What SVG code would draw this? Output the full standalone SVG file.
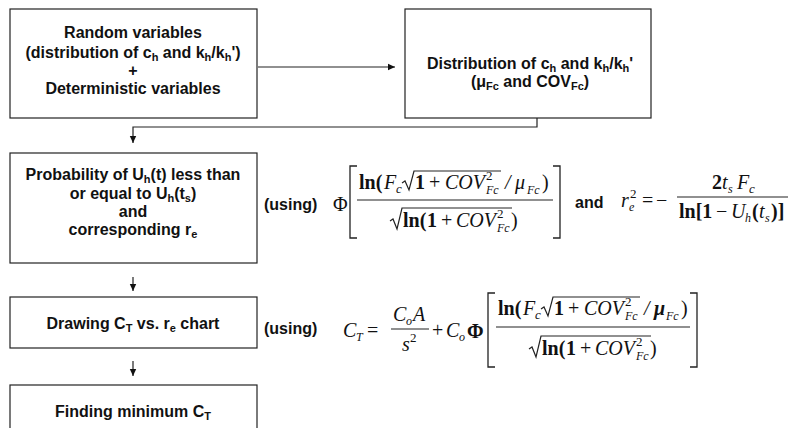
<svg xmlns="http://www.w3.org/2000/svg" width="791" height="428" viewBox="0 0 791 428">
<defs>
<marker id="ah" markerWidth="8" markerHeight="8" refX="7" refY="4" orient="auto" markerUnits="userSpaceOnUse">
<path d="M0,0.8 L7,4 L0,7.2 Z" fill="#111"/>
</marker>
<style>
.box{fill:#fff;stroke:#222;stroke-width:1.2}
.lbl{font-family:"Liberation Sans",Arial,sans-serif;font-weight:bold;font-size:16px;fill:#111}
.c{text-anchor:middle}
.sb{font-size:11px}
.m{font-family:"Liberation Serif","Times New Roman",serif;font-size:20px;fill:#111}
.i{font-style:italic}
.b{font-weight:bold}
.s13{font-size:13px}
.s12{font-size:12px}
.ln{fill:none;stroke:#222;stroke-width:1.2}
.br{fill:none;stroke:#222;stroke-width:1.3}
</style>
</defs>
<rect width="791" height="428" fill="#fff"/>

<g id="connectors">
<line class="ln" x1="258" y1="67" x2="395" y2="67" marker-end="url(#ah)"/>
<polyline class="ln" points="537,118 537,127 133,127 133,143" marker-end="url(#ah)"/>
<line class="ln" x1="133" y1="277" x2="133" y2="291" marker-end="url(#ah)"/>
<line class="ln" x1="133" y1="361" x2="133" y2="376" marker-end="url(#ah)"/>
</g>

<g id="node-random">
<rect class="box" x="10" y="9" width="247" height="109"/>
<text class="lbl c" x="133" y="38">Random variables</text>
<text class="lbl c" x="133" y="58">(distribution of c<tspan class="sb" dy="3">h</tspan><tspan dy="-3"> and k</tspan><tspan class="sb" dy="3">h</tspan><tspan dy="-3">/k</tspan><tspan class="sb" dy="3">h</tspan><tspan dy="-3">')</tspan></text>
<text class="lbl c" x="133" y="76">+</text>
<text class="lbl c" x="133" y="94">Deterministic variables</text>
</g>

<g id="node-distribution">
<rect class="box" x="405" y="9" width="246" height="109"/>
<text class="lbl c" x="530" y="69">Distribution of c<tspan class="sb" dy="3">h</tspan><tspan dy="-3"> and k</tspan><tspan class="sb" dy="3">h</tspan><tspan dy="-3">/k</tspan><tspan class="sb" dy="3">h</tspan><tspan dy="-3">'</tspan></text>
<text class="lbl c" x="530" y="87">(μ<tspan class="sb" dy="3">Fc</tspan><tspan dy="-3"> and COV</tspan><tspan class="sb" dy="3">Fc</tspan><tspan dy="-3">)</tspan></text>
</g>

<g id="node-probability">
<rect class="box" x="10" y="153" width="247" height="110"/>
<text class="lbl c" x="133" y="180">Probability of U<tspan class="sb" dy="3">h</tspan><tspan dy="-3">(t) less than</tspan></text>
<text class="lbl c" x="133" y="199">or equal to U<tspan class="sb" dy="3">h</tspan><tspan dy="-3">(t</tspan><tspan class="sb" dy="3">s</tspan><tspan dy="-3">)</tspan></text>
<text class="lbl c" x="133" y="217">and</text>
<text class="lbl c" x="133" y="235">corresponding r<tspan class="sb" dy="3">e</tspan></text>
</g>

<g id="node-drawing">
<rect class="box" x="10" y="297" width="247" height="51"/>
<text class="lbl c" x="133" y="329">Drawing C<tspan class="sb" dy="3">T</tspan><tspan dy="-3"> vs. r</tspan><tspan class="sb" dy="3">e</tspan><tspan dy="-3"> chart</tspan></text>
</g>

<g id="node-finding">
<rect class="box" x="10" y="385" width="247" height="60"/>
<text class="lbl c" x="133" y="417">Finding minimum C<tspan class="sb" dy="3">T</tspan></text>
</g>

<g id="formula-1">
<text class="lbl" x="264" y="210">(using)</text>
<text class="m" x="333" y="211">Φ</text>
<path class="br" d="M357,166 H350 V238 H357"/>
<text class="m b" x="359" y="189">ln(</text>
<text class="m i" x="384" y="189">F</text>
<text class="m i s13" x="396" y="193">c</text>
<path class="ln" d="M402,183 l3,-2 l4,9 l5,-19 H501"/>
<text class="m b" x="415" y="189">1</text>
<text class="m" x="429" y="189">+</text>
<text class="m i" x="445" y="189">COV</text>
<text class="m s13" x="486" y="180">2</text>
<text class="m i s12" x="486" y="194">Fc</text>
<text class="m i" x="505" y="189">/</text>
<text class="m i" x="515" y="189">μ</text>
<text class="m i s12" x="527" y="194">Fc</text>
<text class="m" x="542" y="189">)</text>
<line class="ln" x1="357" y1="200" x2="553" y2="200"/>
<path class="ln" d="M390,221 l3,-2 l4,10 l5,-21 H512"/>
<text class="m b" x="403" y="227">ln(</text>
<text class="m b" x="427" y="227">1</text>
<text class="m" x="441" y="227">+</text>
<text class="m i" x="456" y="227">COV</text>
<text class="m s13" x="497" y="218">2</text>
<text class="m i s12" x="497" y="232">Fc</text>
<text class="m" x="511" y="227">)</text>
<path class="br" d="M553,166 H560 V238 H553"/>
<text class="lbl" x="575" y="208">and</text>
<text class="m i" x="621" y="207">r</text>
<text class="m s13" x="630" y="198">2</text>
<text class="m i s12" x="629" y="211">e</text>
<text class="m" x="642" y="207">=</text>
<text class="m" x="656" y="207">−</text>
<text class="m b" x="712" y="189">2</text>
<text class="m i" x="722" y="189">t</text>
<text class="m i s12" x="728" y="193">s</text>
<text class="m i" x="737" y="189">F</text>
<text class="m i s13" x="749" y="193">c</text>
<line class="ln" x1="677" y1="197" x2="788" y2="197"/>
<text class="m b" x="679" y="218">ln[1</text>
<text class="m" x="716" y="218">−</text>
<text class="m i" x="731" y="218">U</text>
<text class="m i s12" x="745" y="222">h</text>
<text class="m b" x="752" y="218">(</text>
<text class="m i" x="759" y="218">t</text>
<text class="m i s12" x="765" y="222">s</text>
<text class="m b" x="771" y="218">)]</text>
</g>

<g id="formula-2">
<text class="lbl" x="264" y="334">(using)</text>
<text class="m i" x="343" y="337">C</text>
<text class="m i s12" x="356" y="341">T</text>
<text class="m" x="367" y="337">=</text>
<text class="m i" x="393" y="321">C</text>
<text class="m i s12" x="406" y="325">o</text>
<text class="m i" x="413" y="321">A</text>
<line class="ln" x1="391" y1="329" x2="429" y2="329"/>
<text class="m i" x="402" y="351">s</text>
<text class="m s13" x="410" y="342">2</text>
<text class="m" x="432" y="337">+</text>
<text class="m i" x="446" y="337">C</text>
<text class="m i s12" x="459" y="341">o</text>
<text class="m b" x="467" y="338">Φ</text>
<path class="br" d="M495,293 H488 V367 H495"/>
<text class="m b" x="498" y="315">ln(</text>
<text class="m i" x="523" y="315">F</text>
<text class="m i s13" x="535" y="319">c</text>
<path class="ln" d="M541,309 l3,-2 l4,9 l5,-19 H640"/>
<text class="m b" x="554" y="315">1</text>
<text class="m" x="568" y="315">+</text>
<text class="m i" x="584" y="315">COV</text>
<text class="m s13" x="625" y="306">2</text>
<text class="m i s12" x="625" y="320">Fc</text>
<text class="m i" x="644" y="315">/</text>
<text class="m i b" x="654" y="315">μ</text>
<text class="m i s12" x="666" y="320">Fc</text>
<text class="m" x="681" y="315">)</text>
<line class="ln" x1="496" y1="327" x2="690" y2="327"/>
<path class="ln" d="M529,349 l3,-2 l4,10 l5,-21 H651"/>
<text class="m b" x="542" y="355">ln(</text>
<text class="m b" x="566" y="355">1</text>
<text class="m" x="580" y="355">+</text>
<text class="m i" x="595" y="355">COV</text>
<text class="m s13" x="636" y="346">2</text>
<text class="m i s12" x="636" y="360">Fc</text>
<text class="m" x="650" y="355">)</text>
<path class="br" d="M690,293 H697 V367 H690"/>
</g>
</svg>
